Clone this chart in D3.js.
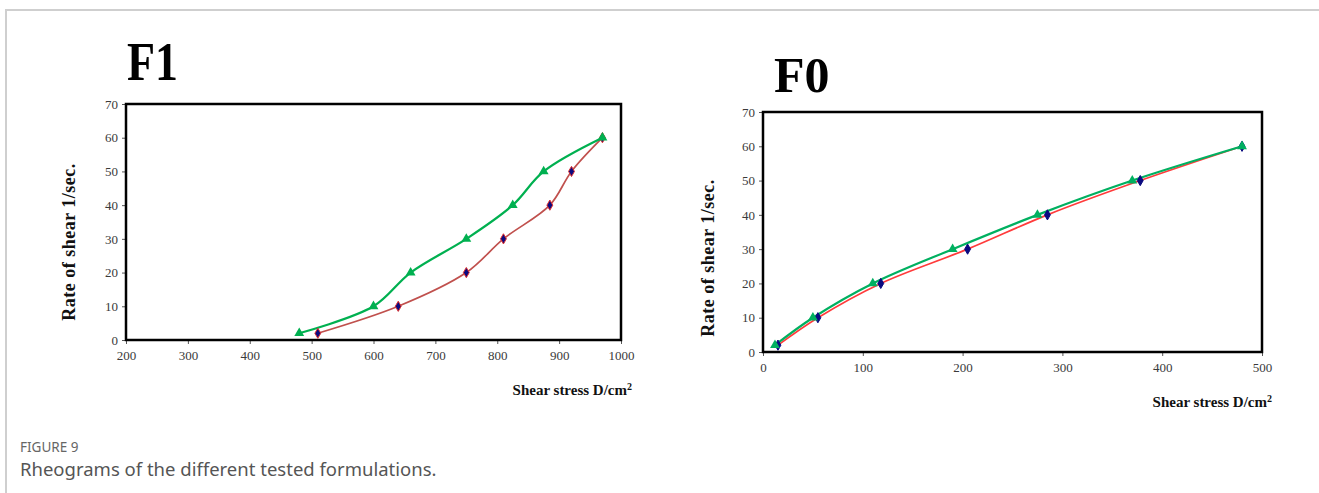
<!DOCTYPE html>
<html>
<head>
<meta charset="utf-8">
<title>Rheograms</title>
<script src="https://cdn.jsdelivr.net/npm/d3@7"></script>
<style>
  body { margin: 0; background: #fff; }
  .tick text { font-family: "Liberation Serif", serif; font-size: 13px; fill: #3a3a3a; }
  .axis-title { font-family: "Liberation Serif", serif; font-weight: bold; font-size: 15px; fill: #111; }
  .y-title { font-size: 18px; letter-spacing: 0.5px; }
  .panel-title { font-family: "Liberation Serif", serif; font-weight: bold; fill: #000; }
  .cap-label { font-family: "Noto Sans", sans-serif; font-size: 13.5px; fill: #666; }
  .cap-text { font-family: "Noto Sans", sans-serif; font-size: 18.5px; fill: #555; }
</style>
</head>
<body>
<div id="chart"></div>
<script>
// F1 panel
var f1RedX = [510, 640, 750, 810, 885, 920, 970];
var f1RedY = [2, 10, 20, 30, 40, 50, 60];
var f1GreenX = [480, 600, 660, 750, 825, 875, 970];
var f1GreenY = [2, 10, 20, 30, 40, 50, 60];
var f1XTicks = [200, 300, 400, 500, 600, 700, 800, 900, 1000];

// F0 panel
var f0RedX = [15, 55, 118, 205, 285, 378, 480];
var f0RedY = [2, 10, 20, 30, 40, 50, 60];
var f0GreenX = [12, 50, 110, 190, 275, 370, 480];
var f0GreenY = [2, 10, 20, 30, 40, 50, 60];
var f0XTicks = [0, 100, 200, 300, 400, 500];

var yTicks = [0, 10, 20, 30, 40, 50, 60, 70];

var W = 1319, H = 493;
var svg = d3.select("#chart").append("svg")
  .attr("width", W).attr("height", H);

svg.append("rect").attr("width", W).attr("height", H).attr("fill", "#fff");

// card border (top + left)
svg.append("path")
  .attr("d", "M6," + H + "V10H" + W)
  .attr("fill", "none").attr("stroke", "#cfcfcf").attr("stroke-width", 2);

function zip(xs, ys) {
  return xs.map(function(x, i) { return [x, ys[i]]; });
}

function panel(opt) {
  var g = svg.append("g");
  var x = d3.scaleLinear().domain(opt.xDomain).range([opt.left, opt.right]);
  var y = d3.scaleLinear().domain([0, 70]).range([opt.bottom, opt.top]);

  g.append("text").attr("class", "panel-title")
    .attr("transform", "translate(" + opt.titleX + "," + opt.titleY + ") scale(" + opt.titleSX + ",1)")
    .style("font-size", opt.titleSize + "px")
    .text(opt.title);

  g.append("g").attr("transform", "translate(0," + opt.bottom + ")")
    .call(d3.axisBottom(x).tickValues(opt.xTicks).tickFormat(d3.format("d")).tickSize(4).tickPadding(7))
    .call(function(a) { a.select(".domain").remove(); a.selectAll("line").attr("stroke", "#555"); });

  g.append("g").attr("transform", "translate(" + opt.left + ",0)")
    .call(d3.axisLeft(y).tickValues(yTicks).tickSize(4).tickPadding(4))
    .call(function(a) { a.select(".domain").remove(); a.selectAll("line").attr("stroke", "#555"); });

  g.append("rect")
    .attr("x", opt.left).attr("y", opt.top)
    .attr("width", opt.right - opt.left).attr("height", opt.bottom - opt.top)
    .attr("fill", "none").attr("stroke", "#000").attr("stroke-width", 2.5);

  var line = d3.line()
    .x(function(d) { return x(d[0]); })
    .y(function(d) { return y(d[1]); })
    .curve(d3.curveCatmullRom.alpha(0.5));

  g.append("path").datum(opt.red)
    .attr("d", line).attr("fill", "none")
    .attr("stroke", opt.redColor).attr("stroke-width", 1.7);

  g.append("path").datum(opt.green)
    .attr("d", line).attr("fill", "none")
    .attr("stroke", opt.greenColor).attr("stroke-width", 2.2);

  g.selectAll(".dia").data(opt.red).enter().append("path")
    .attr("transform", function(d) { return "translate(" + x(d[0]) + "," + y(d[1]) + ")"; })
    .attr("d", d3.symbol(d3.symbolDiamond, 30))
    .attr("fill", "#0a0a80").attr("stroke", opt.markStroke).attr("stroke-width", 1);

  g.selectAll(".tri").data(opt.green).enter().append("path")
    .attr("transform", function(d) { return "translate(" + x(d[0]) + "," + y(d[1]) + ")"; })
    .attr("d", d3.symbol(d3.symbolTriangle, 42))
    .attr("fill", opt.greenColor);

  g.append("text").attr("class", "axis-title y-title")
    .attr("transform", "translate(" + opt.yTitleX + "," + opt.yTitleY + ") rotate(-90)")
    .attr("text-anchor", "middle")
    .text("Rate of shear 1/sec.");

  var xt = g.append("text").attr("class", "axis-title")
    .attr("x", opt.xTitleX).attr("y", opt.xTitleY)
    .attr("text-anchor", "end");
  xt.append("tspan").text("Shear stress D/cm");
  xt.append("tspan").attr("dy", -5).style("font-size", "10px").text("2");
}

panel({
  title: "F1", titleX: 127, titleY: 80, titleSize: 54, titleSX: 0.85,
  xDomain: [200, 1000], xTicks: f1XTicks,
  left: 126, right: 621, top: 104, bottom: 340,
  red: zip(f1RedX, f1RedY), green: zip(f1GreenX, f1GreenY),
  redColor: "#c0504d", greenColor: "#00b050", markStroke: "#e03030",
  yTitleX: 75, yTitleY: 242, xTitleX: 632, xTitleY: 395
});

panel({
  title: "F0", titleX: 774, titleY: 92, titleSize: 50, titleSX: 1,
  xDomain: [0, 500], xTicks: f0XTicks,
  left: 763, right: 1262, top: 112, bottom: 352,
  red: zip(f0RedX, f0RedY), green: zip(f0GreenX, f0GreenY),
  redColor: "#ff3b3b", greenColor: "#00b060", markStroke: "#0a0a80",
  yTitleX: 714, yTitleY: 258, xTitleX: 1272, xTitleY: 407
});

svg.append("text").attr("class", "cap-label").attr("x", 20).attr("y", 452).text("FIGURE 9");
svg.append("text").attr("class", "cap-text").attr("x", 20).attr("y", 476).text("Rheograms of the different tested formulations.");
</script>
</body>
</html>
